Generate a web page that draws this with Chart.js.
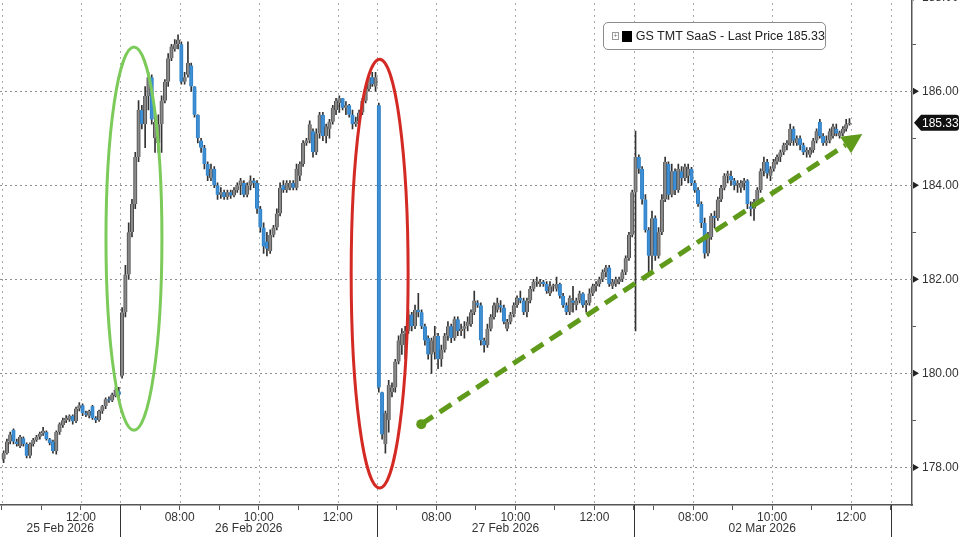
<!DOCTYPE html>
<html>
<head>
<meta charset="utf-8">
<script src="https://cdn.jsdelivr.net/npm/chart.js@4.4.1/dist/chart.umd.min.js"></script>
<style>
  html, body { margin: 0; padding: 0; background: #fff; overflow: hidden; }
  #wrap { position: absolute; left: 0; top: -16px; width: 960px; height: 553px; }
  #legendBox {
    position: absolute; left: 603px; top: 22px; width: 221px; height: 26px;
    border: 1.5px solid #8c8c8c; border-radius: 5px; background: #fff;
    font: 12.5px "Liberation Sans", Arial, sans-serif; color: #222;
    display: flex; align-items: center; white-space: nowrap;
  }
  #legendBox .plus {
    width: 6px; height: 6px; border: 1px solid #999; margin-left: 8px;
    font-size: 7px; line-height: 6px; text-align: center; color: #777;
  }
  #legendBox .swatch { width: 11px; height: 11px; background: #000; margin: 0 4px 0 3px; }
</style>
</head>
<body>
<div id="wrap"><canvas id="myChart"></canvas></div>
<div id="legendBox"><span class="plus">+</span><span class="swatch"></span><span id="legendText"></span></div>
<script>
// 5 minute bars, [open, high, low, close]
const seriesName = 'GS TMT SaaS';
const dayLabels = ['25 Feb 2026', '26 Feb 2026', '27 Feb 2026', '02 Mar 2026'];
const dayFirstBar = ['10:00', '06:30', '06:30', '06:30'];
const labelledHours = ['08:00', '10:00', '12:00'];

const feb25 = [
    [178.18,178.35,178.1,178.3], [178.3,178.6,178.28,178.55], [178.55,178.75,178.5,178.7], [178.8,178.82,178.5,178.55],
    [178.55,178.6,178.45,178.5], [178.45,178.68,178.42,178.65], [178.62,178.65,178.45,178.5], [178.5,178.52,178.2,178.25],
    [178.25,178.52,178.2,178.5], [178.5,178.62,178.45,178.58], [178.58,178.68,178.55,178.65], [178.65,178.75,178.6,178.72],
    [178.72,178.85,178.68,178.78], [178.75,178.78,178.58,178.6], [178.6,178.62,178.48,178.52], [178.55,178.58,178.3,178.35],
    [178.35,178.78,178.28,178.75], [178.75,178.95,178.7,178.92], [178.9,179.05,178.85,179.0], [179.0,179.1,178.95,179.05],
    [179.02,179.12,178.98,179.1], [179.1,179.12,178.92,178.98], [178.98,179.28,178.95,179.25], [179.25,179.38,179.2,179.32],
    [179.32,179.35,179.1,179.15], [179.15,179.2,179.08,179.12], [179.1,179.22,179.05,179.2], [179.3,179.32,179.02,179.05],
    [179.05,179.08,178.95,179.0], [179.0,179.22,178.98,179.2], [179.2,179.32,179.15,179.3], [179.3,179.48,179.25,179.45],
    [179.45,179.5,179.38,179.42], [179.42,179.58,179.4,179.55], [179.52,179.7,179.5,179.65], [179.62,179.7,179.45,179.55]
];
const feb26 = [
    [179.95,181.4,179.9,181.3], [181.3,182.3,181.2,182.1], [182.1,183.2,182.0,183.0], [183.0,183.7,182.9,183.6],
    [183.6,184.7,183.5,184.6], [184.6,185.8,184.5,185.6], [185.6,185.7,185.2,185.3], [185.3,186.1,184.8,185.9],
    [185.9,186.4,185.6,186.3], [186.3,186.35,185.3,185.4], [185.0,185.5,184.7,185.35], [184.9,185.5,184.7,185.3],
    [185.3,185.9,184.7,185.8], [185.8,186.25,185.75,186.2], [186.2,186.8,186.1,186.7], [186.7,187.0,186.65,186.95],
    [186.9,187.1,186.85,187.0], [187.0,187.2,186.9,187.1], [187.0,187.05,186.15,186.2], [186.2,186.4,186.15,186.3],
    [186.35,187.05,186.3,186.6], [186.55,186.6,186.0,186.1], [186.1,186.1,185.45,185.5], [185.5,185.5,184.9,185.0],
    [184.95,185.0,184.7,184.8], [184.8,184.85,184.35,184.45], [184.45,184.5,184.1,184.2], [184.15,184.45,184.1,184.35],
    [184.35,184.4,183.95,184.0], [184.0,184.05,183.7,183.8], [183.8,183.95,183.72,183.85], [183.85,183.9,183.7,183.75],
    [183.75,183.9,183.7,183.85], [183.85,183.9,183.72,183.78], [183.78,183.95,183.75,183.9], [183.9,184.05,183.85,184.0],
    [184.0,184.15,183.8,184.1], [184.05,184.1,183.75,183.8], [183.8,184.05,183.75,184.0], [184.0,184.2,183.9,184.1],
    [184.1,184.15,183.95,184.05], [184.05,184.1,183.4,183.5], [183.5,183.55,183.0,183.1], [183.1,183.2,182.55,182.7],
    [182.8,183.0,182.5,182.65], [182.6,183.05,182.55,182.95], [182.95,183.15,182.9,183.1], [183.1,183.5,183.05,183.4],
    [183.4,184.05,183.35,183.95], [184.0,184.1,183.85,183.9], [183.9,184.1,183.85,184.05], [183.95,184.1,183.9,184.05],
    [184.05,184.1,183.9,183.95], [183.95,184.45,183.9,184.35], [184.2,184.5,184.1,184.45], [184.45,184.95,184.4,184.9],
    [184.9,185.0,184.85,184.95], [184.95,185.37,184.9,185.3], [185.15,185.2,184.6,184.7], [184.7,185.2,184.65,185.1],
    [185.1,185.55,185.0,185.5], [185.5,185.55,184.95,185.05], [185.05,185.3,184.9,185.25], [185.2,185.4,185.0,185.35],
    [185.35,185.7,185.3,185.65], [185.6,185.85,185.5,185.8], [185.75,185.9,185.55,185.85], [185.85,185.85,185.6,185.65],
    [185.65,185.78,185.5,185.7], [185.7,185.72,185.45,185.5], [185.5,185.6,185.2,185.3], [185.3,185.45,185.25,185.35],
    [185.35,185.6,185.3,185.55], [185.55,185.85,185.5,185.8], [185.8,186.1,185.75,186.05], [186.05,186.35,186.0,186.3],
    [186.3,186.4,186.1,186.15], [186.1,186.4,186.0,186.3]
];
const feb27 = [
    [185.7,185.75,179.6,179.7], [179.6,179.6,178.6,178.7], [178.5,179.2,178.3,179.15], [179.0,179.85,178.75,179.75],
    [179.6,179.8,179.5,179.7], [179.7,180.3,179.6,180.25], [180.25,180.8,180.2,180.7], [180.6,180.95,180.4,180.85],
    [180.85,181.0,180.3,180.9], [180.9,181.35,180.85,181.25], [181.25,181.3,180.9,181.0], [181.0,181.45,180.95,181.35],
    [181.35,181.7,181.2,181.3], [181.3,181.35,180.95,181.0], [181.0,181.05,180.6,180.7], [180.75,180.8,180.3,180.4],
    [180.4,180.75,180.0,180.7], [180.45,181.0,180.3,180.8], [180.8,180.85,180.1,180.3], [180.3,180.6,180.15,180.5],
    [180.5,180.85,180.45,180.8], [180.8,181.1,180.7,181.0], [181.0,181.05,180.65,180.75], [180.75,181.2,180.7,181.15],
    [181.15,181.2,180.8,180.9], [180.9,181.05,180.8,180.95], [180.95,181.1,180.75,181.0], [181.0,181.2,180.9,181.1],
    [181.05,181.35,181.0,181.3], [181.3,181.75,181.25,181.55], [181.5,181.55,181.4,181.45], [181.45,181.5,180.6,180.7],
    [180.7,180.75,180.45,180.6], [180.6,181.05,180.55,180.95], [180.95,181.25,180.9,181.2], [181.2,181.5,181.15,181.45],
    [181.35,181.6,181.3,181.5], [181.45,181.55,181.3,181.4], [181.4,181.45,181.05,181.1], [180.95,181.15,180.9,181.1],
    [181.1,181.3,181.05,181.25], [181.25,181.5,181.2,181.45], [181.45,181.65,181.4,181.6], [181.6,181.75,181.5,181.55],
    [181.55,181.6,181.25,181.3], [181.3,181.6,181.2,181.55], [181.55,181.85,181.5,181.8], [181.8,182.0,181.75,181.95],
    [181.95,182.05,181.85,181.95], [181.9,182.0,181.85,181.95], [181.95,181.98,181.85,181.9], [181.9,181.95,181.7,181.75],
    [181.7,181.95,181.65,181.85], [181.85,181.9,181.75,181.85], [181.8,182.05,181.75,181.9], [181.9,181.92,181.6,181.65],
    [181.65,181.7,181.4,181.45], [181.45,181.5,181.25,181.3], [181.3,181.65,181.25,181.6], [181.55,181.85,181.3,181.5],
    [181.45,181.6,181.35,181.55], [181.55,181.75,181.5,181.7], [181.7,181.72,181.4,181.45], [181.45,181.55,181.3,181.5],
    [181.5,181.8,181.45,181.7], [181.7,181.9,181.65,181.85], [181.85,181.95,181.75,181.9], [181.9,182.05,181.85,182.0],
    [182.0,182.2,181.95,182.15], [182.15,182.3,182.05,182.25], [182.25,182.3,181.85,181.9], [181.85,182.0,181.8,181.95],
    [181.9,182.05,181.85,182.0], [181.95,182.05,181.9,182.0], [182.0,182.2,181.95,182.15], [182.15,182.5,182.1,182.45],
    [182.45,183.0,182.4,182.95], [182.95,183.9,182.9,183.85]
];
const mar02 = [
    [183.85,185.15,180.9,184.6], [184.6,184.65,184.25,184.35], [184.35,184.4,183.6,183.7], [183.7,183.8,183.0,183.05],
    [183.05,183.1,182.1,182.5], [182.5,183.45,182.2,183.3], [183.3,183.35,182.4,182.5], [182.5,183.1,182.45,183.0],
    [183.0,183.8,182.95,183.7], [183.7,184.6,183.65,184.5], [184.45,184.5,183.7,183.8], [183.8,184.45,183.75,184.3],
    [184.3,184.35,183.8,183.9], [183.9,184.45,183.85,184.35], [184.3,184.4,184.0,184.15], [184.15,184.45,184.1,184.4],
    [184.2,184.45,184.05,184.35], [184.35,184.38,184.0,184.05], [184.05,184.1,183.85,183.9], [183.9,183.95,183.55,183.6],
    [183.6,183.65,183.1,183.2], [183.2,183.3,182.45,182.55], [182.55,183.0,182.5,182.9], [182.9,183.4,182.85,183.35],
    [183.35,183.45,183.1,183.3], [183.3,183.75,183.25,183.7], [183.7,184.0,183.65,183.95], [183.95,184.25,183.9,184.2],
    [184.2,184.3,184.05,184.25], [184.2,184.3,184.0,184.1], [184.1,184.15,183.9,184.0], [184.0,184.1,183.85,184.05],
    [183.95,184.1,183.85,184.05], [184.05,184.15,183.9,184.1], [184.1,184.12,183.5,183.6], [183.55,183.65,183.35,183.5],
    [183.5,183.7,183.25,183.65], [183.65,183.95,183.6,183.9], [183.9,184.35,183.85,184.3], [184.3,184.6,184.2,184.5],
    [184.5,184.55,184.15,184.25], [184.2,184.4,184.1,184.35], [184.35,184.55,184.3,184.5], [184.5,184.65,184.45,184.6],
    [184.6,184.75,184.5,184.7], [184.7,184.9,184.65,184.85], [184.85,184.95,184.75,184.9], [184.9,185.3,184.85,185.2],
    [185.2,185.25,184.85,184.95], [184.9,185.05,184.85,185.0], [185.0,185.05,184.75,184.85], [184.85,184.9,184.65,184.7],
    [184.7,184.8,184.6,184.75], [184.65,184.8,184.6,184.75], [184.75,185.0,184.7,184.95], [184.95,185.2,184.9,185.15],
    [185.35,185.4,185.0,185.05], [185.05,185.1,184.85,184.9], [184.9,185.05,184.85,184.95], [184.95,185.2,184.9,185.15],
    [185.05,185.3,185.0,185.25], [185.2,185.3,185.05,185.1], [185.05,185.15,185.0,185.12], [185.1,185.25,185.05,185.2],
    [185.2,185.4,185.15,185.3], [185.3,185.42,185.28,185.33]
];
const days = [feb25, feb26, feb27, mar02];

// session 06:30 - 13:00, 78 five-minute slots per day, no overnight gap on the axis
const SLOTS = 78;
const toMin = s => parseInt(s.slice(0, 2)) * 60 + parseInt(s.slice(3));
const OPEN = toMin('06:30');
const xMin = 41.4, xMax = 318.5;
const yMin = 177.2, yMax = 188;

const wickData = [], bodyData = [], bodyColors = [], bodyBorders = [];
days.forEach(function(bars, d) {
    const first = d * SLOTS + (toMin(dayFirstBar[d]) - OPEN) / 5;
    bars.forEach(function(b, k) {
        const x = first + k + 0.5;
        wickData.push({ x: x, y: [b[2], b[1]] });
        bodyData.push({ x: x, y: [b[0], b[3]] });
        const up = b[3] >= b[0];
        bodyColors.push(up ? '#8a8a8a' : '#3d8fd6');
        bodyBorders.push(up ? '#4a4a4a' : '#2f7fc4');
    });
});
const lastBar = mar02[mar02.length - 1];
const lastPrice = lastBar[3];
document.getElementById('legendText').textContent = seriesName + ' - Last Price ' + lastPrice.toFixed(2);

// hourly ticks along the axis
const hourTicks = [];
for (let d = 0; d < days.length; d++) {
    hourTicks.push(d * SLOTS);
    for (let h = 7; h <= 12; h++) hourTicks.push(d * SLOTS + (h * 60 - OPEN) / 5);
}
hourTicks.push(days.length * SLOTS);
const xTicks = hourTicks.filter(v => v >= xMin && v <= xMax);
const fmt = m => String(Math.floor(m / 60)).padStart(2, '0') + ':' + String(m % 60).padStart(2, '0');
const timeOf = v => fmt(OPEN + (v % SLOTS) * 5);
const isDayStart = v => v % SLOTS === 0;
const isLabelled = v => labelledHours.indexOf(timeOf(v)) >= 0;

const dayCenters = dayLabels.map((_, d) => (Math.max(d * SLOTS, xMin) + (d + 1) * SLOTS) / 2);
const yTicks = [];
for (let v = 178; v <= 188; v++) yTicks.push(v);

const font = { family: '"Liberation Sans", Arial, sans-serif', size: 12 };

const overlay = {
    id: 'overlay',
    beforeDatasetsDraw(chart) {
        // dotted grid
        const { ctx, chartArea, scales: { x, y } } = chart;
        ctx.save();
        ctx.strokeStyle = '#8e8e8e';
        ctx.lineWidth = 1;
        ctx.setLineDash([2, 3]);
        yTicks.filter(v => v % 2 === 0).forEach(function(v) {
            const py = Math.round(y.getPixelForValue(v)) + 0.5;
            ctx.beginPath();
            ctx.moveTo(chartArea.left, py);
            ctx.lineTo(chartArea.right, py);
            ctx.stroke();
        });
        ctx.setLineDash([1.5, 4.5]);
        xTicks.filter(v => isLabelled(v) || isDayStart(v)).forEach(function(v) {
            const px = Math.round(x.getPixelForValue(v)) + 0.5;
            ctx.beginPath();
            ctx.moveTo(px, chartArea.top);
            ctx.lineTo(px, chartArea.bottom);
            ctx.stroke();
        });
        ctx.restore();
    },
    afterDatasetsDraw(chart) {
        const { ctx, scales: { x, y } } = chart;
        // ellipses
        function ellipse(x0, x1, y0, y1, color) {
            const l = x.getPixelForValue(x0), r = x.getPixelForValue(x1);
            const t = y.getPixelForValue(y1), b = y.getPixelForValue(y0);
            ctx.save();
            ctx.strokeStyle = color;
            ctx.lineWidth = 3;
            ctx.beginPath();
            ctx.ellipse((l + r) / 2, (t + b) / 2, (r - l) / 2, (b - t) / 2, 0, 0, Math.PI * 2);
            ctx.stroke();
            ctx.restore();
        }
        ellipse(73.6, 90.6, 178.79, 186.94, '#7ccb5a');
        ellipse(148.1, 165.4, 177.56, 186.68, '#d42a24');

        // dashed trend arrow
        const sx = x.getPixelForValue(169.4), sy = y.getPixelForValue(178.92);
        const ex = x.getPixelForValue(303.4), ey = y.getPixelForValue(185.09);
        const ang = Math.atan2(ey - sy, ex - sx);
        const headLen = 20, headW = 10;
        const bx = ex - Math.cos(ang) * headLen, by = ey - Math.sin(ang) * headLen;
        ctx.save();
        ctx.strokeStyle = '#5f9a1a';
        ctx.fillStyle = '#5f9a1a';
        ctx.lineWidth = 5;
        ctx.setLineDash([14, 8]);
        ctx.beginPath();
        ctx.moveTo(sx, sy);
        ctx.lineTo(bx, by);
        ctx.stroke();
        ctx.setLineDash([]);
        ctx.beginPath();
        ctx.arc(sx, sy, 5, 0, Math.PI * 2);
        ctx.fill();
        ctx.beginPath();
        ctx.moveTo(ex, ey);
        ctx.lineTo(bx + Math.sin(ang) * headW, by - Math.cos(ang) * headW);
        ctx.lineTo(bx - Math.sin(ang) * headW, by + Math.cos(ang) * headW);
        ctx.closePath();
        ctx.fill();
        ctx.restore();
    },
    afterDraw(chart) {
        const { ctx, chartArea, scales: { x, y } } = chart;
        ctx.save();
        // day separators under the axis
        ctx.strokeStyle = '#333';
        ctx.lineWidth = 1;
        xTicks.filter(isDayStart).forEach(function(v) {
            const px = Math.round(x.getPixelForValue(v)) + 0.5;
            ctx.beginPath();
            ctx.moveTo(px, chartArea.bottom);
            ctx.lineTo(px, chart.height);
            ctx.stroke();
        });
        // arrow markers on the price axis
        ctx.fillStyle = '#222';
        yTicks.filter(v => v % 2 === 0).forEach(function(v) {
            const py = y.getPixelForValue(v);
            ctx.beginPath();
            ctx.moveTo(chartArea.right + 1, py - 3.5);
            ctx.lineTo(chartArea.right + 7, py);
            ctx.lineTo(chartArea.right + 1, py + 3.5);
            ctx.closePath();
            ctx.fill();
        });
        // last price tag
        const py = y.getPixelForValue(lastPrice);
        const lx = chartArea.right + 2, rx = chart.width - 1;
        ctx.fillStyle = '#111';
        ctx.beginPath();
        ctx.moveTo(lx, py);
        ctx.lineTo(lx + 7, py - 8);
        ctx.lineTo(rx - 3, py - 8);
        ctx.quadraticCurveTo(rx, py - 8, rx, py - 5);
        ctx.lineTo(rx, py + 5);
        ctx.quadraticCurveTo(rx, py + 8, rx - 3, py + 8);
        ctx.lineTo(lx + 7, py + 8);
        ctx.closePath();
        ctx.fill();
        ctx.fillStyle = '#fff';
        ctx.font = '12px "Liberation Sans", Arial, sans-serif';
        ctx.textBaseline = 'middle';
        ctx.fillText(lastPrice.toFixed(2), chartArea.right + 10, py + 0.5);
        ctx.restore();
    }
};

const ctx = document.getElementById('myChart').getContext('2d');
const myChart = new Chart(ctx, {
    type: 'bar',
    data: {
        datasets: [{
            label: 'range',
            data: wickData,
            backgroundColor: '#333333',
            barThickness: 1,
            grouped: false,
            order: 2
        }, {
            label: seriesName,
            data: bodyData,
            backgroundColor: bodyColors,
            borderColor: bodyBorders,
            borderWidth: { left: 1, right: 1, top: 0, bottom: 0 },
            borderSkipped: false,
            barThickness: 3.5,
            minBarLength: 1,
            grouped: false,
            order: 1
        }]
    },
    options: {
        responsive: true,
        maintainAspectRatio: false,
        animation: false,
        layout: { padding: 0, autoPadding: false },
        plugins: {
            legend: { display: false },
            tooltip: { enabled: false }
        },
        scales: {
            x: {
                type: 'linear',
                position: 'bottom',
                weight: 0,
                min: xMin,
                max: xMax,
                offset: false,
                afterBuildTicks: function(axis) { axis.ticks = xTicks.map(v => ({ value: v })); },
                afterFit: function(axis) { axis.height = 16; },
                ticks: {
                    autoSkip: false,
                    maxRotation: 0,
                    padding: 0,
                    color: '#333',
                    font: font,
                    callback: function(v) { return isLabelled(v) && v > xMin + 3 ? timeOf(v) : ''; }
                },
                grid: {
                    offset: false,
                    drawOnChartArea: false,
                    tickColor: '#555',
                    tickLength: 5
                },
                border: { display: true, color: '#555', width: 1.5 }
            },
            xDate: {
                type: 'linear',
                axis: 'x',
                position: 'bottom',
                weight: 1,
                min: xMin,
                max: xMax,
                offset: false,
                afterBuildTicks: function(axis) { axis.ticks = dayCenters.map(v => ({ value: v })); },
                afterFit: function(axis) { axis.height = 16; },
                ticks: {
                    autoSkip: false,
                    maxRotation: 0,
                    padding: 0,
                    color: '#333',
                    font: font,
                    callback: function(v, i) { return dayLabels[i]; }
                },
                grid: { display: false, drawTicks: false, offset: false },
                border: { display: false }
            },
            y: {
                type: 'linear',
                position: 'right',
                min: yMin,
                max: yMax,
                afterBuildTicks: function(axis) { axis.ticks = yTicks.map(v => ({ value: v })); },
                afterFit: function(axis) { axis.width = 48; },
                ticks: {
                    padding: 6,
                    color: '#333',
                    font: font,
                    callback: function(v) { return v % 2 === 0 ? v.toFixed(2) : ''; }
                },
                grid: {
                    drawOnChartArea: false,
                    tickColor: function(c) { return c.tick && c.tick.value % 2 === 0 ? 'rgba(0,0,0,0)' : '#555'; },
                    tickLength: 4
                },
                border: { display: true, color: '#555', width: 1.5 }
            }
        }
    },
    plugins: [overlay]
});
</script>
</body>
</html>
